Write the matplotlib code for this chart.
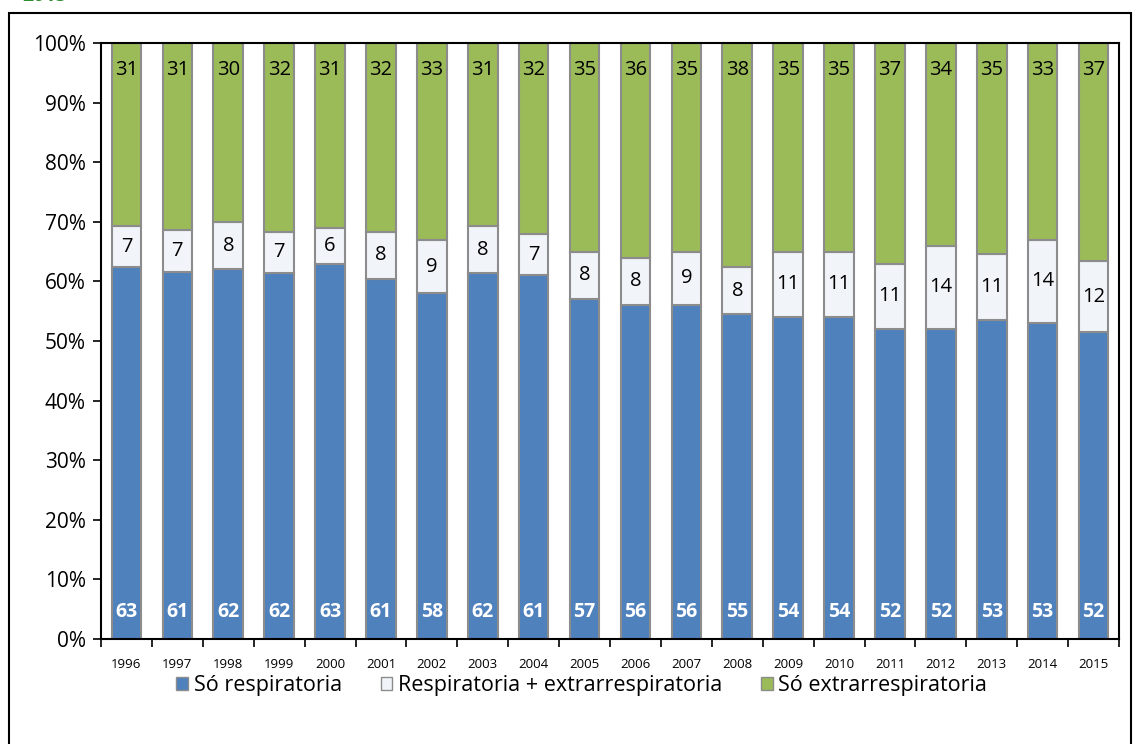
import matplotlib
matplotlib.use("Agg")
import matplotlib.pyplot as plt
from matplotlib.patches import Rectangle, Patch
import numpy as np

years = [str(y) for y in range(1996, 2016)]
so_resp = [63, 61, 62, 62, 63, 61, 58, 62, 61, 57, 56, 56, 55, 54, 54, 52, 52, 53, 53, 52]
resp_extra = [7, 7, 8, 7, 6, 8, 9, 8, 7, 8, 8, 9, 8, 11, 11, 11, 14, 11, 14, 12]
so_extra = [31, 31, 30, 32, 31, 32, 33, 31, 32, 35, 36, 35, 38, 35, 35, 37, 34, 35, 33, 37]
series_names = ["Só respiratoria", "Respiratoria + extrarrespiratoria", "Só extrarrespiratoria"]

plt.rcParams['font.family'] = ['Open Sans', 'DejaVu Sans']

fig = plt.figure(figsize=(11.36, 7.44), dpi=100)
ax = fig.add_axes([101/1136, 1 - 639/744, (1119 - 101)/1136, (639 - 43)/744])

a = np.array(so_resp, float)
b = np.array(resp_extra, float)
c = np.array(so_extra, float)
tot = a + b + c
pa, pb, pc = a / tot, b / tot, c / tot
x = np.arange(len(years))
w = 0.58
edge = '#8C8C8C'
blue = '#4F81BD'
green = '#9BBB59'
mid = '#F1F5FA'

ax.bar(x, pa, w, color=blue, edgecolor=edge, linewidth=1.5, label=series_names[0])
ax.bar(x, pb, w, bottom=pa, color=mid, edgecolor=edge, linewidth=1.5, label=series_names[1])
ax.bar(x, pc, w, bottom=pa + pb, color=green, edgecolor=edge, linewidth=1.5, label=series_names[2])

for i in range(len(years)):
    ax.text(x[i], 0.045, f"{so_resp[i]}", ha='center', va='center', color='white',
            fontsize=14, fontweight='bold')
    ax.text(x[i], pa[i] + pb[i] / 2, f"{resp_extra[i]}", ha='center', va='center',
            color='black', fontsize=14.5)
    ax.text(x[i], 0.955, f"{so_extra[i]}", ha='center', va='center', color='black', fontsize=14.5)

ax.set_xlim(-0.5, len(years) - 0.5)
ax.set_ylim(0, 1)
ax.set_yticks(np.arange(0, 1.01, 0.1))
ax.set_yticklabels([f"{int(round(v*100))}%" for v in np.arange(0, 1.01, 0.1)], fontsize=15)
ax.set_xticks(x)
ax.set_xticklabels(years, fontsize=9.5)
ax.set_xticks(np.arange(-0.5, len(years), 1), minor=True)
ax.tick_params(axis='x', which='major', length=0, pad=14)
ax.tick_params(axis='x', which='minor', length=6, width=1.2, direction='out')
ax.tick_params(axis='y', length=6, width=1.2, direction='out', pad=5)
for s in ax.spines.values():
    s.set_linewidth(1.5)
    s.set_color('black')

handles = [Patch(facecolor=blue, edgecolor=edge), Patch(facecolor=mid, edgecolor=edge),
           Patch(facecolor=green, edgecolor=edge)]
fig.legend(handles, series_names, loc='center', bbox_to_anchor=(0.512, 1 - 686/744),
           ncol=3, frameon=False, fontsize=15.5, handlelength=0.55, handleheight=0.55,
           columnspacing=1.8, handletextpad=0.25)

fig.patches.append(Rectangle((9/1136, -0.01), (1131 - 9)/1136, 1 - 13/744 + 0.01,
                             transform=fig.transFigure, fill=False, edgecolor='black',
                             linewidth=1.5))
fig.text(22/1136, 1 - 6/744, "2015", color='#2E8B2E', fontsize=14, fontweight='bold',
         ha='left', va='bottom')

fig.savefig("out.png", dpi=100)
